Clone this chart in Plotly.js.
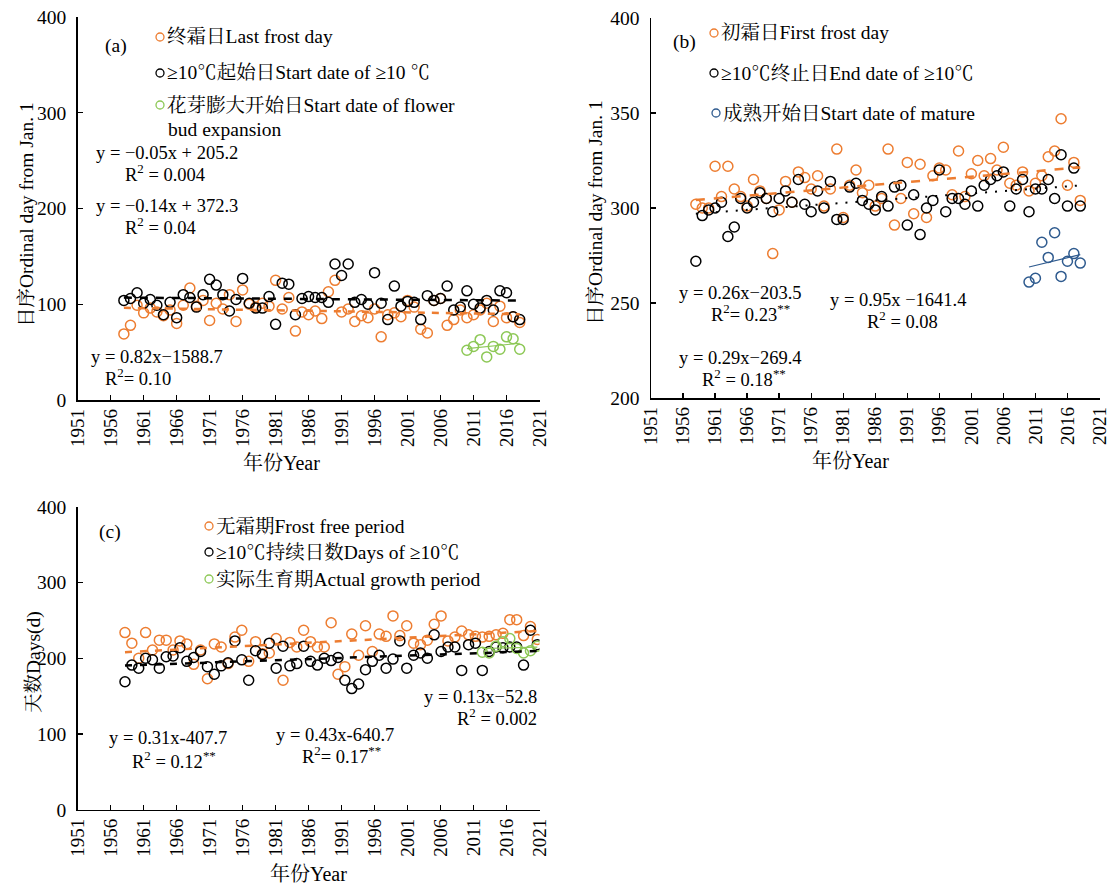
<!DOCTYPE html>
<html>
<head>
<meta charset="utf-8">
<script src="https://cdn.plot.ly/plotly-3.0.1.min.js"></script>
<style>html,body{margin:0;padding:0;background:#fff;}#chart{width:1110px;height:885px;}</style>
</head>
<body>
<div id="chart"></div>
<script>
// ---------------- data ----------------
const years = [1958,1959,1960,1961,1962,1963,1964,1965,1966,1967,
  1968,1969,1970,1971,1972,1973,1974,1975,1976,1977,
  1978,1979,1980,1981,1982,1983,1984,1985,1986,1987,
  1988,1989,1990,1991,1992,1993,1994,1995,1996,1997,
  1998,1999,2000,2001,2002,2003,2004,2005,2006,2007,
  2008,2009,2010,2011,2012,2013,2014,2015,2016,2017,2018];
const recentYears = [2010,2011,2012,2013,2014,2015,2016,2017,2018];
const xTicks = [1951,1956,1961,1966,1971,1976,1981,1986,1991,1996,2001,2006,2011,2016,2021];

// (a)
const lastFrost = [69,78,99,91,96,92,88,94,80,99,
  117,98,104,83,101,95,110,82,115,100,
  97,101,98,125,95,107,72,92,89,93,
  85,113,125,92,95,82,88,86,95,66,
  89,91,87,104,97,74,70,104,106,78,
  84,94,86,89,94,101,82,98,86,87,81];
const startTen = [104,106,112,101,105,99,89,102,86,110,
  107,97,110,126,120,110,93,105,127,101,
  96,96,108,79,122,121,89,106,108,107,
  107,102,142,130,142,102,105,100,133,101,
  84,119,98,103,102,84,109,104,106,119,
  94,97,114,100,96,104,94,114,112,87,84];
const budStart = [52,56,63,45,56,53,66,64,53];

// (b)
const firstFrost = [302,300,300,322,306,322,310,306,301,315,
  309,305,276,299,314,303,319,316,310,317,
  301,310,331,295,312,320,308,312,301,305,
  331,291,305,324,297,323,295,317,321,320,
  307,330,306,318,325,317,326,320,332,313,
  312,319,309,313,317,327,330,347,312,324,304];
const endTen = [272,296,299,300,303,285,290,305,300,303,
  308,305,298,305,309,303,315,302,298,309,
  300,314,294,294,311,313,304,302,299,306,
  301,311,312,291,307,286,300,304,320,298,
  305,305,302,309,301,312,315,317,319,301,
  310,315,298,310,310,315,305,328,301,321,301];
const matureStart = [261,263,282,274,287,264,272,276,271];

// (c)
const frostFree = [234,220,200,234,211,224,224,211,223,219,
  192,211,173,219,215,193,228,237,196,222,
  206,207,226,171,221,215,237,222,215,215,
  247,179,189,232,204,243,209,232,229,256,
  230,243,220,218,224,245,256,223,228,236,
  231,229,228,229,231,233,251,251,230,242,225];
const daysTen = [169,191,187,200,198,187,202,203,214,196,
  201,209,189,179,190,194,223,198,171,210,
  205,220,187,216,190,193,216,196,191,200,
  197,201,171,160,166,185,196,204,187,199,
  223,187,204,207,200,231,209,215,215,184,
  218,220,184,209,215,214,215,215,191,237,218];
const growthPeriod = [208,207,216,222,226,213,207,210,216];

// ---------------- helpers ----------------
const W = 1110, H = 885;
const px = x => x / W;
const py = y => 1 - y / H;
const ORANGE = '#ED7D31', BLACK = '#000000', GREEN = '#8DC856', BLUE = '#2F5B8F';
const FONT = "'Liberation Serif','Times New Roman','Noto Serif CJK SC','Noto Sans CJK SC',serif";

function fit(xs, ys) {
  const n = xs.length;
  const mx = xs.reduce((a, b) => a + b, 0) / n;
  const my = ys.reduce((a, b) => a + b, 0) / n;
  let sxy = 0, sxx = 0;
  for (let i = 0; i < n; i++) { sxy += (xs[i] - mx) * (ys[i] - my); sxx += (xs[i] - mx) ** 2; }
  const b = sxy / sxx, a = my - b * mx;
  const x0 = xs[0], x1 = xs[n - 1];
  return { x: [x0, x1], y: [a + b * x0, a + b * x1] };
}
function pts(xs, ys, color, xa, ya) {
  return { type: 'scatter', mode: 'markers', x: xs, y: ys, xaxis: xa, yaxis: ya,
    marker: { symbol: 'circle-open', size: 10, color: color, line: { width: 1.5, color: color } },
    hoverinfo: 'x+y' };
}
function trend(xs, ys, color, width, dash, xa, ya) {
  const f = fit(xs, ys);
  return { type: 'scatter', mode: 'lines', x: f.x, y: f.y, xaxis: xa, yaxis: ya,
    line: { color: color, width: width, dash: dash }, hoverinfo: 'skip' };
}

const traces = [
  pts(years, lastFrost, ORANGE, 'x', 'y'),
  pts(years, startTen, BLACK, 'x', 'y'),
  pts(recentYears, budStart, GREEN, 'x', 'y'),
  trend(years, lastFrost, ORANGE, 2.5, '7px,7px', 'x', 'y'),
  trend(years, startTen, BLACK, 2.5, '8px,8px', 'x', 'y'),
  trend(recentYears, budStart, GREEN, 1.2, 'solid', 'x', 'y'),

  pts(years, firstFrost, ORANGE, 'x2', 'y2'),
  pts(years, endTen, BLACK, 'x2', 'y2'),
  pts(recentYears, matureStart, BLUE, 'x2', 'y2'),
  trend(years, firstFrost, ORANGE, 2.5, '9px,9px', 'x2', 'y2'),
  trend(years, endTen, BLACK, 2, '2px,8px', 'x2', 'y2'),
  trend(recentYears, matureStart, BLUE, 1.2, 'solid', 'x2', 'y2'),

  // empty trace so that the (c) base axes form a subplot
  { type: 'scatter', mode: 'markers', x: [], y: [], xaxis: 'x3', yaxis: 'y3', hoverinfo: 'skip' },
  pts(years, frostFree, ORANGE, 'x4', 'y3'),
  pts(years, daysTen, BLACK, 'x4', 'y3'),
  pts(recentYears, growthPeriod, GREEN, 'x4', 'y3'),
  trend(years, frostFree, ORANGE, 2.5, '7px,8px', 'x4', 'y3'),
  trend(years, daysTen, BLACK, 2.5, '7px,8px', 'x4', 'y3'),
  trend(recentYears, growthPeriod, GREEN, 1.2, 'solid', 'x4', 'y3')
];

function xAxis(domain, anchor) {
  return { domain: domain, anchor: anchor, range: [1951, 2021], tickmode: 'array', tickvals: xTicks,
    ticktext: xTicks.map(String), tickangle: -90, ticks: 'inside', ticklen: 5, tickwidth: 1.3,
    tickcolor: '#000', showline: true, linecolor: '#000', linewidth: 1.5, showgrid: false,
    zeroline: false, ticklabeloverflow: 'allow', tickfont: { size: 19, family: FONT, color: '#000' },
    fixedrange: true };
}
function yAxis(domain, anchor, range, vals) {
  return { domain: domain, anchor: anchor, range: range, tickmode: 'array', tickvals: vals,
    ticks: 'inside', ticklen: 5, tickwidth: 1.3, tickcolor: '#000', showline: true, linecolor: '#000',
    linewidth: 1.5, showgrid: false, zeroline: false, ticklabelstandoff: 6,
    tickfont: { size: 19.5, family: FONT, color: '#000' }, fixedrange: true };
}

const annotations = [];
function ann(text, x, y, xanchor, size, extra) {
  annotations.push(Object.assign({ text: text, x: px(x), y: py(y), xref: 'paper', yref: 'paper',
    xanchor: xanchor || 'left', yanchor: 'middle', showarrow: false,
    font: { size: size || 18.5, family: FONT, color: '#000' } }, extra || {}));
}
const shapes = [];
function dot(cx, cy, color) {
  shapes.push({ type: 'circle', xref: 'paper', yref: 'paper', x0: px(cx - 4), x1: px(cx + 4),
    y0: py(cy + 4), y1: py(cy - 4), line: { color: color, width: 1.3 } });
}
const LEG = 19.5, TTL = 20;

// panel (a)
ann('(a)', 116, 46, 'center', 19.5);
dot(160, 37, ORANGE); ann('终霜日Last frost day', 165, 36, 'left', LEG);
dot(160, 73, BLACK); ann('≥10℃起始日Start date of ≥10 ℃', 165, 72, 'left', LEG);
dot(160, 105, GREEN); ann('花芽膨大开始日Start date of flower', 165, 105, 'left', LEG);
ann('bud expansion', 166, 129, 'left', LEG);
ann('y = −0.05x + 205.2', 94, 153);
ann('R<sup>2</sup> = 0.004', 123, 173);
ann('y = −0.14x + 372.3', 94, 206);
ann('R<sup>2</sup> = 0.04', 123, 226);
ann('y = 0.82x−1588.7', 89, 357);
ann('R<sup>2</sup>= 0.10', 103, 377);
ann('日序Ordinal day from Jan. 1', 27, 215, 'center', 19.5, { textangle: -90 });
ann('年份Year', 281, 463, 'center', TTL);

// panel (b)
ann('(b)', 684, 42, 'center', 19.5);
dot(714, 33, ORANGE); ann('初霜日First frost day', 719, 33, 'left', LEG);
dot(714, 73, BLACK); ann('≥10℃终止日End date of ≥10℃', 719, 73, 'left', LEG);
dot(716, 113, BLUE); ann('成熟开始日Start date of mature', 721, 113, 'left', LEG);
ann('y = 0.26x−203.5', 677, 293);
ann('R<sup>2</sup>= 0.23<sup>**</sup>', 709, 313);
ann('y = 0.29x−269.4', 677, 358);
ann('R<sup>2</sup> = 0.18<sup>**</sup>', 700, 378);
ann('y = 0.95x −1641.4', 828, 300);
ann('R<sup>2</sup> = 0.08', 865, 320);
ann('日序Ordinal day from Jan. 1', 596, 213, 'center', 19.5, { textangle: -90 });
ann('年份Year', 850, 461, 'center', TTL);

// panel (c)
ann('(c)', 110, 532, 'center', 19.5);
dot(209, 526, ORANGE); ann('无霜期Frost free period', 214, 526, 'left', LEG);
dot(209, 552, BLACK); ann('≥10℃持续日数Days of ≥10℃', 214, 552, 'left', LEG);
dot(209, 579, GREEN); ann('实际生育期Actual growth period', 214, 579, 'left', LEG);
ann('y = 0.13x−52.8', 539, 697, 'right');
ann('R<sup>2</sup> = 0.002', 539, 717, 'right');
ann('y = 0.31x-407.7', 107, 738);
ann('R<sup>2</sup> = 0.12<sup>**</sup>', 130, 760);
ann('y = 0.43x-640.7', 274, 735);
ann('R<sup>2</sup>= 0.17<sup>**</sup>', 300, 755);
ann('天数Days(d)', 34, 662, 'center', 19.5, { textangle: -90 });
ann('年份Year', 308, 874, 'center', TTL);

const xcDomain = [px(77.7), px(539.5)];
const layout = {
  width: W, height: H, margin: { l: 0, r: 0, t: 0, b: 0 },
  paper_bgcolor: '#ffffff', plot_bgcolor: '#ffffff', showlegend: false,
  font: { family: FONT, size: 18, color: '#000' },
  xaxis: xAxis([px(77.7), px(539.5)], 'y'),
  yaxis: yAxis([py(400), py(17)], 'x', [0, 400], [0, 100, 200, 300, 400]),
  xaxis2: xAxis([px(651), px(1099.5)], 'y2'),
  yaxis2: yAxis([py(398), py(18)], 'x2', [200, 400], [200, 250, 300, 350, 400]),
  xaxis3: xAxis(xcDomain, 'y3'),
  yaxis3: yAxis([py(809.7), py(506.9)], 'x3', [0, 400], [0, 100, 200, 300, 400]),
  xaxis4: { domain: xcDomain, overlaying: 'x3', anchor: 'y3', range: [1951.12, 2018.32],
    visible: false, showgrid: false, zeroline: false, fixedrange: true },
  annotations: annotations,
  shapes: shapes
};

Plotly.newPlot('chart', traces, layout, { displayModeBar: false, staticPlot: true });
</script>
</body>
</html>
